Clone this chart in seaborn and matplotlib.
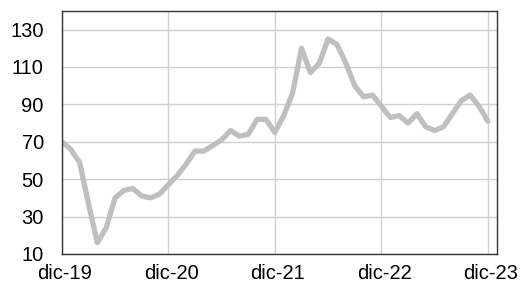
import numpy as np
import pandas as pd
import seaborn as sns
import matplotlib.pyplot as plt
import matplotlib.transforms as mtransforms

# monthly values, dic-19 .. dic-23
months = list(range(49))
values = [70, 66, 59, 37, 16, 24, 40, 44, 45, 41, 40, 42,
          47, 52, 58, 65, 65, 68, 71, 76, 73, 74, 82, 82,
          75, 84, 96, 120, 107, 112, 125, 122, 112, 100, 94, 95,
          89, 83, 84, 80, 85, 78, 76, 78, 85, 92, 95, 89,
          81]
tick_pos = [0, 12, 24, 36, 48]
tick_labels = ['dic-19', 'dic-20', 'dic-21', 'dic-22', 'dic-23']
y_ticks = [10, 30, 50, 70, 90, 110, 130]

df = pd.DataFrame({'mes': months, 'valor': values})

sns.set_style('white')
plt.rcParams['font.family'] = ['Liberation Sans', 'DejaVu Sans']

fig = plt.figure(figsize=(5.24, 2.86), dpi=100)
ax = fig.add_axes([0.118, 0.112, 0.83, 0.85])

ax.grid(True, color='#d0d0d0', linewidth=1)
ax.set_axisbelow(True)
sns.lineplot(data=df, x='mes', y='valor', ax=ax, color='#bfbfbf',
             linewidth=3.8, solid_joinstyle='round', solid_capstyle='round')

ax.set_xlim(0, 49)
ax.set_ylim(10, 140)
ax.set_xticks(tick_pos)
ax.set_xticklabels(tick_labels)
ax.set_yticks(y_ticks)
ax.tick_params(axis='both', length=0, labelsize=14.5, colors='black')
ax.tick_params(axis='y', pad=13)
ax.tick_params(axis='x', pad=7)
# x labels sit a little right of the gridlines in the original
shift = mtransforms.ScaledTranslation(3 / 100, 0, fig.dpi_scale_trans)
for lab in ax.get_xticklabels():
    lab.set_transform(lab.get_transform() + shift)
ax.set_xlabel('')
ax.set_ylabel('')
for s in ax.spines.values():
    s.set_color('#333333')
    s.set_linewidth(1)

fig.savefig('out.png', dpi=100)
